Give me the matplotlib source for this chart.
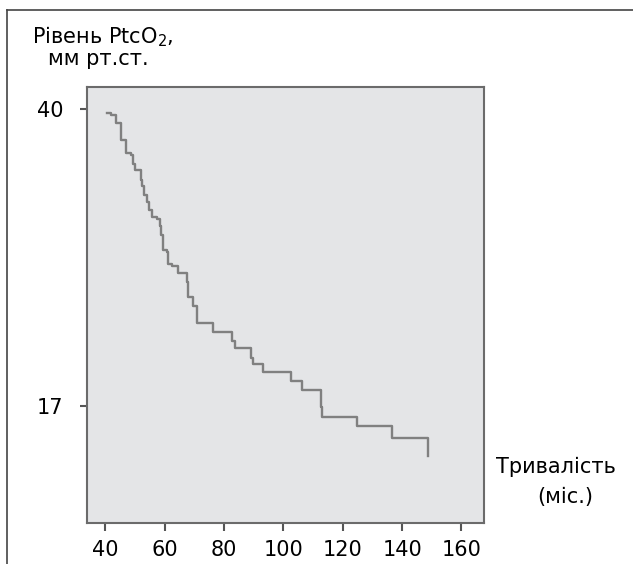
import matplotlib
matplotlib.use("Agg")
import matplotlib.pyplot as plt
from matplotlib.lines import Line2D

# step curve (time in months, PtcO2 level after each step)
times = [40.5, 41.9, 43.5, 45.2, 46.9, 48.6, 49.3, 49.9, 52.0, 52.3, 53.0, 54.0, 54.7,
         55.7, 57.4, 58.4, 58.9, 59.4, 60.7, 61.2, 62.4, 64.4, 67.6, 68.0, 69.5, 71.0,
         76.4, 82.6, 83.7, 89.0, 89.7, 93.1, 102.5, 106.2, 112.5, 113.1, 124.8, 136.6, 148.7]
levels = [39.7, 39.5, 38.9, 37.6, 36.6, 36.4, 35.7, 35.3, 34.5, 34.0, 33.3, 32.8, 32.2,
          31.6, 31.5, 30.9, 30.2, 29.1, 28.9, 28.0, 27.8, 27.3, 26.6, 25.4, 24.7, 23.4,
          22.7, 22.0, 21.5, 20.7, 20.2, 19.6, 18.9, 18.2, 16.9, 16.1, 15.4, 14.5, 13.1]

xticks = [40, 60, 80, 100, 120, 140, 160]
yticks = [17, 40]

plt.rcParams["font.family"] = ["DejaVu Sans"]
W, H = 633, 564
fig = plt.figure(figsize=(W / 100, H / 100), dpi=100)
ax = fig.add_axes([87 / W, 1 - 523 / H, 397 / W, 436 / H])

ax.set_facecolor("#e4e5e7")
ax.step(times, levels, where="post", color="#808080", lw=1.7)

ax.set_xlim(33.8, 167.6)
ax.set_ylim(7.9, 41.7)
ax.set_xticks(xticks)
ax.set_yticks(yticks)
ax.tick_params(axis="x", length=6, width=1.5, color="#555555", pad=6, labelsize=15)
ax.tick_params(axis="y", length=5, width=1.5, color="#555555", pad=12, labelsize=15)
for s in ax.spines.values():
    s.set_color("#6b6b6b")
    s.set_linewidth(1.5)

# labels placed like in the source
fig.text(32 / W, 1 - 43 / H, "Рівень PtcO$_2$,", fontsize=15, va="baseline")
fig.text(48 / W, 1 - 65 / H, "мм рт.ст.", fontsize=15, va="baseline")
fig.text(556 / W, 1 - 467 / H, "Тривалість", fontsize=15, ha="center", va="center")
fig.text(565 / W, 1 - 497 / H, "(міс.)", fontsize=15, ha="center", va="center")

# outer frame (left and top edges)
fig.add_artist(Line2D([7 / W, 7 / W], [0, 1 - 10 / H], color="#444444", lw=1.2))
fig.add_artist(Line2D([7 / W, 1], [1 - 10 / H, 1 - 10 / H], color="#444444", lw=1.2))

fig.savefig("out.png", dpi=100)
